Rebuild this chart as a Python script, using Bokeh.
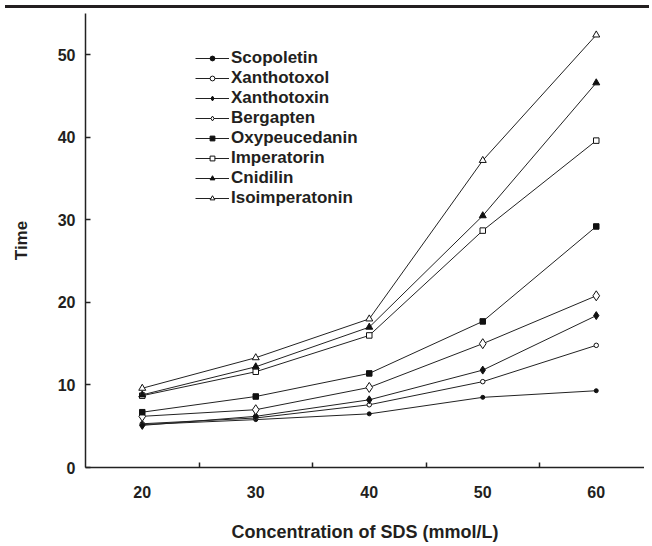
from bokeh.plotting import figure
from bokeh.models import (FixedTicker, Legend, LegendItem, Range1d, Div)
from bokeh.layouts import column
from bokeh.embed import file_html
from bokeh.resources import INLINE

concentration = [20, 30, 40, 50, 60]
x_tick_labels = ["20", "30", "40", "50", "60"]

scopoletin = [5.2, 5.8, 6.5, 8.5, 9.3]
xanthotoxol = [5.3, 6.0, 7.6, 10.4, 14.8]
xanthotoxin = [5.1, 6.2, 8.2, 11.8, 18.4]
bergapten = [6.2, 7.0, 9.7, 15.0, 20.8]
oxypeucedanin = [6.7, 8.6, 11.4, 17.7, 29.2]
imperatorin = [8.7, 11.6, 16.0, 28.7, 39.6]
cnidilin = [8.8, 12.2, 17.0, 30.5, 46.6]
isoimperatonin = [9.6, 13.3, 18.0, 37.2, 52.4]

names = ["Scopoletin", "Xanthotoxol", "Xanthotoxin", "Bergapten",
         "Oxypeucedanin", "Imperatorin", "Cnidilin", "Isoimperatonin"]
series = [scopoletin, xanthotoxol, xanthotoxin, bergapten,
          oxypeucedanin, imperatorin, cnidilin, isoimperatonin]

# marker style: (marker, size, filled)
styles = [("circle", 4, True), ("circle", 4.5, False), ("diamond", 8, True),
          ("diamond", 10, False), ("square", 5.5, True), ("square", 5.5, False),
          ("triangle", 7, True), ("triangle", 7, False)]

FONT = "Liberation Sans"
TXT = "#231f20"

p = figure(width=644, height=534, output_backend="svg", toolbar_location=None,
           x_range=Range1d(15, 64.25), y_range=Range1d(0, 55),
           min_border_left=85, min_border_right=0, min_border_top=0,
           min_border_bottom=80)
p.outline_line_color = None
p.xgrid.visible = False
p.ygrid.visible = False

items = []
for name, ys, (mk, sz, filled) in zip(names, series, styles):
    r1 = p.line(concentration, ys, line_color="#222222", line_width=1)
    r2 = p.scatter(concentration, ys, marker=mk, size=sz,
                   line_color="#111111", line_width=1,
                   fill_color="#111111" if filled else "white")
    items.append(LegendItem(label=name, renderers=[r1, r2]))

legend = Legend(items=items, location=(110, 259), padding=0, margin=0,
                spacing=0, label_height=20, glyph_height=12, glyph_width=34,
                label_standoff=2, border_line_color=None,
                background_fill_alpha=0, label_text_font=FONT,
                label_text_font_style="bold", label_text_font_size="17px",
                label_text_color=TXT)
p.add_layout(legend)

xa = p.xaxis[0]
xa.ticker = FixedTicker(ticks=concentration, minor_ticks=[25, 35, 45, 55])
xa.major_label_overrides = {v: t for v, t in zip(concentration, x_tick_labels)}
xa.major_tick_in = 0
xa.major_tick_out = 0
xa.minor_tick_in = 5
xa.minor_tick_out = 0
xa.minor_tick_line_color = "#222222"
xa.minor_tick_line_width = 1.5
xa.axis_line_width = 1.5
xa.axis_line_color = "#222222"
xa.major_label_standoff = 18
xa.major_label_text_font = FONT
xa.major_label_text_font_style = "bold"
xa.major_label_text_font_size = "16px"
xa.major_label_text_color = TXT
xa.axis_label = "Concentration of SDS (mmol/L)"
xa.axis_label_text_font = FONT
xa.axis_label_text_font_style = "bold"
xa.axis_label_text_font_size = "18px"
xa.axis_label_text_color = TXT
xa.axis_label_standoff = 21

ya = p.yaxis[0]
ya.ticker = FixedTicker(ticks=[0, 10, 20, 30, 40, 50])
ya.major_tick_in = 5
ya.major_tick_out = 0
ya.minor_tick_in = 0
ya.minor_tick_out = 0
ya.major_tick_line_width = 1.5
ya.major_tick_line_color = "#222222"
ya.axis_line_width = 1.5
ya.axis_line_color = "#222222"
ya.major_label_standoff = 10
ya.major_label_text_font = FONT
ya.major_label_text_font_style = "bold"
ya.major_label_text_font_size = "16px"
ya.major_label_text_color = TXT
ya.axis_label = "Time"
ya.axis_label_text_font = FONT
ya.axis_label_text_font_style = "bold"
ya.axis_label_text_font_size = "17px"
ya.axis_label_text_color = TXT
ya.axis_label_standoff = 24

bar = Div(text="", width=644, height=3,
          styles={"background-color": "#231f20", "overflow": "hidden"})

layout = column(bar, p, spacing=0)
open("out.html", "w").write(file_html(layout, INLINE))
